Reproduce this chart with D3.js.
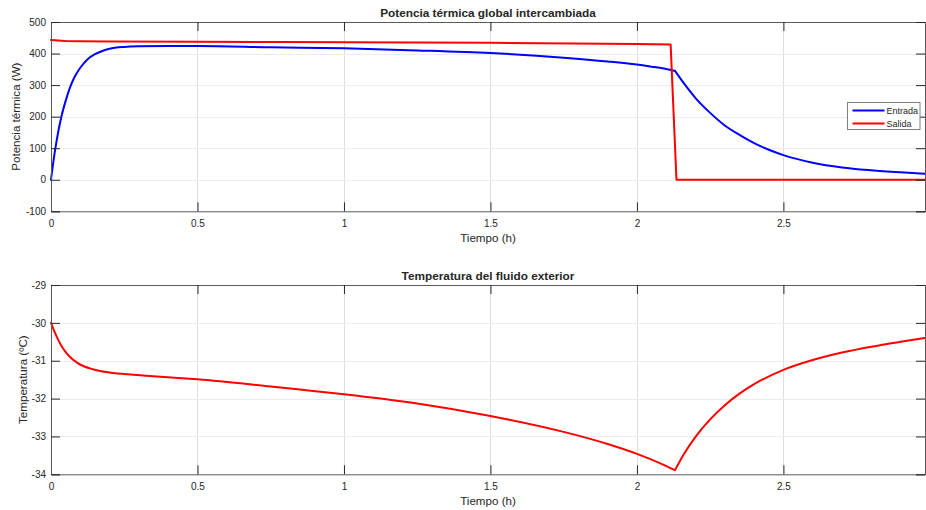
<!DOCTYPE html>
<html>
<head>
<meta charset="utf-8">
<script src="https://cdn.jsdelivr.net/npm/d3@7"></script>
<style>
  body { margin: 0; background: #fff; }
  text { font-family: "Liberation Sans", Arial, Helvetica, sans-serif; fill: #262626; }
</style>
</head>
<body>
<svg id="canvas"></svg>
<script>
// datos
const tEntrada = [0, 0.01, 0.02, 0.035, 0.05, 0.065, 0.08, 0.1, 0.125, 0.15, 0.175, 0.2, 0.25, 0.3, 0.4, 0.5, 0.75, 1.0, 1.25, 1.5, 1.75, 1.9, 2.0, 2.05, 2.1, 2.13,
                  2.16, 2.2, 2.25, 2.3, 2.35, 2.4, 2.45, 2.5, 2.6, 2.7, 2.8, 2.9, 2.9833];
const entrada = [0, 70, 128, 198, 250, 293, 325, 355, 382, 398, 408, 415, 421, 423, 424, 424, 420, 416.5, 410, 401.5, 387, 375, 365, 358.5, 351, 345,
                 306, 259, 212, 172, 142, 116, 95, 78, 54, 39, 30, 23.5, 19];

const tSalida = [0, 0.05, 0.1, 0.2, 0.5, 0.78, 1.0, 1.5, 2.0, 2.115, 2.135, 2.9833];
const salida = [443, 440, 439, 438, 437.5, 436.6, 436, 434, 430.5, 429, 0, 0];

const tTemp = [0, 0.01, 0.025, 0.04, 0.065, 0.09, 0.11, 0.14, 0.167, 0.2, 0.28, 0.4, 0.5, 0.75, 0.85, 1.0, 1.25, 1.5, 1.75, 1.9, 2.0, 2.08, 2.13,
               2.16, 2.2, 2.25, 2.3, 2.35, 2.4, 2.5, 2.6, 2.7, 2.8, 2.9, 2.9833];
const temp = [-30, -30.2, -30.455, -30.665, -30.9, -31.055, -31.14, -31.22, -31.27, -31.31, -31.37, -31.436, -31.49, -31.68, -31.76, -31.885, -32.13, -32.46, -32.88, -33.2, -33.46, -33.71, -33.89,
              -33.47, -33.01, -32.55, -32.175, -31.87, -31.62, -31.24, -30.98, -30.785, -30.63, -30.5, -30.4];

// instante en que se corta el calentamiento (esquina de las curvas)
const tCorte = 2.13;

const xTicks = [0, 0.5, 1, 1.5, 2, 2.5];
const yTicksPot = [-100, 0, 100, 200, 300, 400, 500];
const yTicksTemp = [-34, -33, -32, -31, -30, -29];
const leyenda = ['Entrada', 'Salida'];

const w = 926, h = 510;
const svg = d3.select('#canvas').attr('width', w).attr('height', h);

const left = 51, right = 925;
const tickLen = 9;

let drawPanel = (cfg) => {
  const x = d3.scaleLinear().domain([0, 2.9833]).range([left, right]);
  const y = d3.scaleLinear().domain(cfg.ydom).range([cfg.bottom, cfg.top]);
  const g = svg.append('g');

  // rejilla
  g.selectAll('.gx').data(xTicks.slice(1)).enter().append('line')
    .attr('x1', d => Math.round(x(d)) + 0.5).attr('x2', d => Math.round(x(d)) + 0.5)
    .attr('y1', cfg.top).attr('y2', cfg.bottom)
    .attr('stroke', '#dedede').attr('stroke-width', 1);
  g.selectAll('.gy').data(cfg.yticks.slice(1, -1)).enter().append('line')
    .attr('y1', d => Math.round(y(d)) + 0.5).attr('y2', d => Math.round(y(d)) + 0.5)
    .attr('x1', left).attr('x2', right)
    .attr('stroke', '#ececec').attr('stroke-width', 1);

  // curvas: suaves a cada lado de la esquina
  cfg.series.forEach(s => {
    const pts = s.t.map((t, i) => [t, s.v[i]]);
    let tramos = [pts];
    if (s.smooth) {
      tramos = [pts.filter(p => p[0] <= tCorte), pts.filter(p => p[0] >= tCorte)];
    }
    const line = d3.line().x(d => x(d[0])).y(d => y(d[1]))
      .curve(s.smooth ? d3.curveMonotoneX : d3.curveLinear);
    g.append('path')
      .attr('d', tramos.map(tr => line(tr)).join(''))
      .attr('fill', 'none')
      .attr('stroke', s.color)
      .attr('stroke-width', 2)
      .attr('stroke-linejoin', 'round')
      .attr('stroke-linecap', 'round');
  });

  // ejes con ticks hacia dentro
  const fmt = d => String(d);
  const xb = d3.axisBottom(x).tickValues(xTicks).tickSize(-tickLen).tickPadding(9).tickFormat(fmt);
  const xt = d3.axisTop(x).tickValues(xTicks).tickSize(-tickLen).tickFormat('');
  const yl = d3.axisLeft(y).tickValues(cfg.yticks).tickSize(-tickLen).tickPadding(5).tickFormat(fmt);
  const yr = d3.axisRight(y).tickValues(cfg.yticks).tickSize(-tickLen).tickFormat('');

  const ax = [
    g.append('g').attr('transform', `translate(0,${cfg.bottom})`).call(xb),
    g.append('g').attr('transform', `translate(0,${cfg.top})`).call(xt),
    g.append('g').attr('transform', `translate(${left},0)`).call(yl),
    g.append('g').attr('transform', `translate(${right},0)`).call(yr)
  ];
  ax.forEach(a => {
    a.select('.domain').attr('stroke', '#5a5a5a');
    a.selectAll('.tick line').attr('stroke', '#262626');
    a.selectAll('.tick text').style('font-size', '10px').attr('fill', '#262626')
      .style('font-family', '"Liberation Sans", Arial, sans-serif');
  });

  svg.append('text').attr('x', (left + right) / 2).attr('y', cfg.top - 5)
    .attr('text-anchor', 'middle').style('font-size', '11.8px').style('font-weight', 'bold')
    .text(cfg.title);
  svg.append('text').attr('x', (left + right) / 2).attr('y', cfg.bottom + 30.5)
    .attr('text-anchor', 'middle').style('font-size', '11.6px')
    .text('Tiempo (h)');
  svg.append('text')
    .attr('transform', `translate(${cfg.ylabX},${(cfg.top + cfg.bottom) / 2}) rotate(-90)`)
    .attr('text-anchor', 'middle').style('font-size', '11.6px')
    .text(cfg.ylab);

  return { x, y };
};

drawPanel({
  top: 22, bottom: 211.3, ydom: [-100, 500], yticks: yTicksPot,
  title: 'Potencia térmica global intercambiada', ylab: 'Potencia térmica (W)', ylabX: 20,
  series: [
    { t: tEntrada, v: entrada, color: '#0000ff', smooth: true },
    { t: tSalida, v: salida, color: '#ff0000', smooth: false }
  ]
});

drawPanel({
  top: 285, bottom: 474.3, ydom: [-34, -29], yticks: yTicksTemp,
  title: 'Temperatura del fluido exterior', ylab: 'Temperatura (ºC)', ylabX: 27,
  series: [
    { t: tTemp, v: temp, color: '#ff0000', smooth: true }
  ]
});

// leyenda
const lg = svg.append('g').attr('transform', 'translate(847.5,102.5)');
lg.append('rect').attr('width', 72.5).attr('height', 27).attr('fill', '#fff').attr('stroke', '#808080');
const colores = ['#0000ff', '#ff0000'];
leyenda.forEach((name, i) => {
  lg.append('line').attr('x1', 5).attr('x2', 37).attr('y1', 8 + i * 13).attr('y2', 8 + i * 13)
    .attr('stroke', colores[i]).attr('stroke-width', 2);
  lg.append('text').attr('x', 39).attr('y', 11.5 + i * 13).style('font-size', '9px').text(name);
});
</script>
</body>
</html>
